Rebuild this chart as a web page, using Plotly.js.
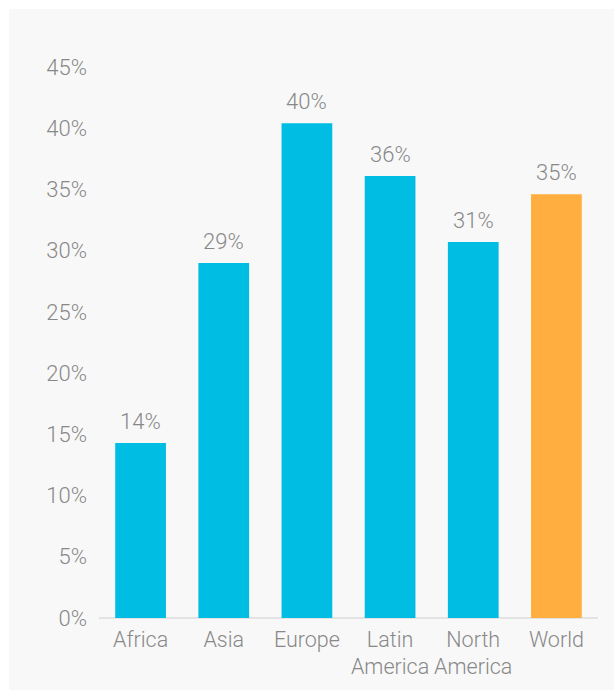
<!DOCTYPE html>
<html>
<head>
<meta charset="utf-8">
<script src="https://cdn.plot.ly/plotly-3.0.1.min.js"></script>
<style>
  html, body { margin: 0; padding: 0; background: #ffffff; width: 614px; height: 690px; overflow: hidden; }
  #panel { position: absolute; left: 9px; top: 9px; width: 605px; height: 681px; background: #f8f8f8; }
  #chart { width: 605px; height: 681px; }
</style>
</head>
<body>
<div id="panel"><div id="chart"></div></div>
<script>
const categories = ["Africa", "Asia", "Europe", "Latin<br>America", "North<br>America", "World"];
const values = [14.3, 29.0, 40.4, 36.1, 30.7, 34.6];
const valueLabels = ["14%", "29%", "40%", "36%", "31%", "35%"];
const barColors = ["#00bde3", "#00bde3", "#00bde3", "#00bde3", "#00bde3", "#ffae3f"];
const tickValues = [0, 5, 10, 15, 20, 25, 30, 35, 40, 45];
const tickLabels = ["0%", "5%", "10%", "15%", "20%", "25%", "30%", "35%", "40%", "45%"];

const fontFamily = "Roboto, 'Open Sans', sans-serif";
const textColor = "#888888";
const fontSize = 22;

const trace = {
  type: "bar",
  x: categories,
  y: values,
  marker: { color: barColors },
  hoverinfo: "none"
};

const annotations = categories.map((c, i) => ({
  x: c, y: values[i], xref: "x", yref: "y",
  text: valueLabels[i], showarrow: false,
  yanchor: "bottom", yshift: 7,
  font: { family: fontFamily, size: fontSize, color: textColor, weight: 300 }
}));

const layout = {
  width: 605, height: 681,
  margin: { l: 90, r: 16, t: 58, b: 72 },
  paper_bgcolor: "#f8f8f8",
  plot_bgcolor: "#f8f8f8",
  bargap: 0.39,
  showlegend: false,
  font: { family: fontFamily, size: fontSize, color: textColor, weight: 300 },
  xaxis: {
    type: "category",
    showgrid: false, zeroline: false, showline: false,
    ticks: "", ticklabelstandoff: 6,
    tickfont: { family: fontFamily, size: 21.5, color: textColor, weight: 300 },
    fixedrange: true
  },
  yaxis: {
    range: [0, 45],
    tickvals: tickValues, ticktext: tickLabels,
    showgrid: false, zeroline: true, zerolinecolor: "#e3e3e3", zerolinewidth: 2,
    showline: false, ticks: "", ticklabelstandoff: 11,
    tickfont: { family: fontFamily, size: fontSize, color: textColor, weight: 300 },
    fixedrange: true
  },
  annotations: annotations
};

Plotly.newPlot("chart", [trace], layout, { displayModeBar: false, staticPlot: true });
</script>
</body>
</html>
